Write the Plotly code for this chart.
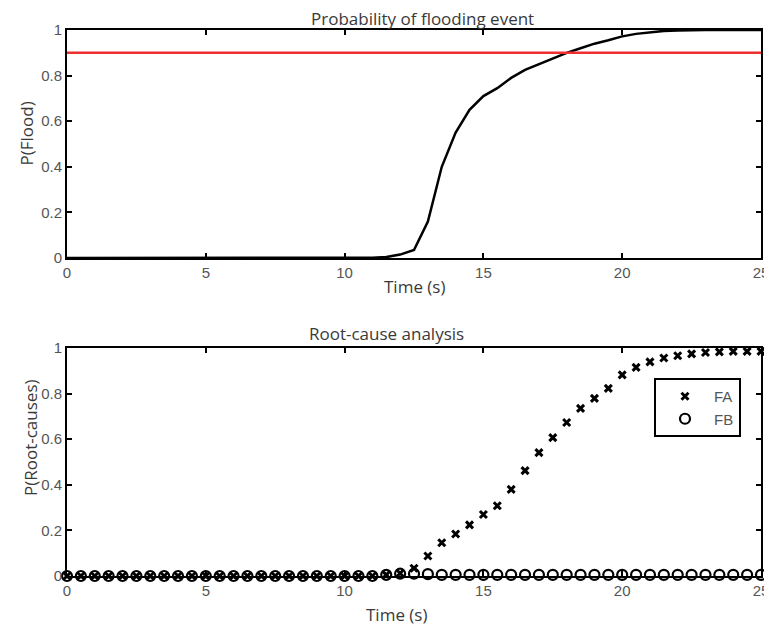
import plotly.graph_objects as go

# ---- data ----
time = [i * 0.5 for i in range(51)]
p_flood = [0.0] * 22 + [0.001, 0.004, 0.015, 0.035, 0.16, 0.40, 0.55, 0.65, 0.71, 0.745, 0.79,
                        0.825, 0.85, 0.875, 0.90, 0.92, 0.94, 0.955, 0.972, 0.983, 0.991,
                        0.996, 0.998, 1.0, 1.0, 1.0, 1.0, 1.0, 1.0]
threshold = 0.9
p_fa = [0.0] * 23 + [0.005, 0.012, 0.034, 0.088, 0.146, 0.184, 0.224, 0.27, 0.308, 0.38,
                     0.462, 0.541, 0.607, 0.673, 0.735, 0.779, 0.823, 0.882, 0.915, 0.939,
                     0.956, 0.966, 0.974, 0.98, 0.983, 0.985, 0.985, 0.985]
p_fb = [0.0] * 23 + [0.005, 0.01, 0.01, 0.008, 0.005, 0.005, 0.005, 0.005, 0.005, 0.005,
                     0.005, 0.005, 0.005, 0.005, 0.005, 0.005, 0.005, 0.005, 0.005, 0.005,
                     0.005, 0.005, 0.005, 0.005, 0.005, 0.005, 0.005, 0.005]
x_ticks = [0, 5, 10, 15, 20, 25]
y_ticks = [0, 0.2, 0.4, 0.6, 0.8, 1]
y_tick_text = ["0", "0.2", "0.4", "0.6", "0.8", "1"]

TXT = "#3a3a3a"
LABEL_FONT = dict(family="Open Sans", size=17, color=TXT)

fig = go.Figure()

fig.add_trace(go.Scatter(x=time, y=p_flood, mode="lines", line=dict(color="black", width=2.5),
                         showlegend=False, xaxis="x", yaxis="y"))
fig.add_trace(go.Scatter(x=[0, 25], y=[threshold, threshold], mode="lines",
                         line=dict(color="#ee3030", width=2.5), showlegend=False,
                         xaxis="x", yaxis="y"))

fig.add_trace(go.Scatter(x=time, y=p_fb, mode="markers", name="FB", cliponaxis=False,
                         marker=dict(symbol="circle-open", size=10, color="black",
                                     line=dict(width=2.2, color="black")),
                         xaxis="x2", yaxis="y2"))
fig.add_trace(go.Scatter(x=time, y=p_fa, mode="markers", name="FA", cliponaxis=False,
                         marker=dict(symbol="x-thin", size=7, color="black",
                                     line=dict(width=3, color="black")),
                         xaxis="x2", yaxis="y2"))

tickfont = dict(family="Liberation Sans, Arial", size=15, color="#555")
axis_common = dict(showline=True, linecolor="black", linewidth=2, mirror="ticks",
                   ticks="inside", ticklen=5, tickwidth=2, tickcolor="black",
                   showgrid=False, zeroline=False, tickfont=tickfont, automargin=False)


def px(x):
    return (x - 67) / 694


def py(y):
    return (576 - y) / 546


# page body has an 8px margin: the figure is drawn 8px right/down of the window corner
fig.update_layout(
    width=764, height=622,
    margin=dict(l=59, r=11, t=22, b=54),
    plot_bgcolor="white", paper_bgcolor="white",
    xaxis=dict(domain=[0, 1], anchor="y", range=[0, 25], tickvals=x_ticks, **axis_common),
    yaxis=dict(domain=[py(258), 1], anchor="x", range=[0, 1], tickvals=y_ticks,
               ticktext=y_tick_text, **axis_common),
    xaxis2=dict(domain=[0, 1], anchor="y2", range=[0, 25], tickvals=x_ticks, **axis_common),
    yaxis2=dict(domain=[0, py(348)], anchor="x2", range=[0, 1], tickvals=y_ticks,
                ticktext=y_tick_text, **axis_common),
    legend=dict(x=px(654), y=py(378), xanchor="left", yanchor="top",
                bordercolor="black", borderwidth=2, bgcolor="white",
                font=dict(family="Liberation Sans, Arial", size=15, color="#555"),
                traceorder="reversed", itemwidth=48),
    annotations=[
        dict(text="Probability of flooding event", x=px(422), y=py(18), xref="paper",
             yref="paper", xanchor="center", yanchor="middle", showarrow=False,
             font=LABEL_FONT),
        dict(text="Root-cause analysis", x=px(386), y=py(333), xref="paper", yref="paper",
             xanchor="center", yanchor="middle", showarrow=False, font=LABEL_FONT),
        dict(text="Time (s)", x=px(414), y=py(286), xref="paper", yref="paper",
             xanchor="center", yanchor="middle", showarrow=False, font=LABEL_FONT),
        dict(text="Time (s)", x=px(396), y=py(614), xref="paper", yref="paper",
             xanchor="center", yanchor="middle", showarrow=False, font=LABEL_FONT),
        dict(text="P(Flood)", x=px(26), y=py(133.5), xref="paper", yref="paper",
             xanchor="center", yanchor="middle", textangle=-90, showarrow=False,
             font=LABEL_FONT),
        dict(text="P(Root-causes)", x=px(30), y=py(438), xref="paper", yref="paper",
             xanchor="center", yanchor="middle", textangle=-90, showarrow=False,
             font=LABEL_FONT),
    ],
)

fig.write_html("out.html")
